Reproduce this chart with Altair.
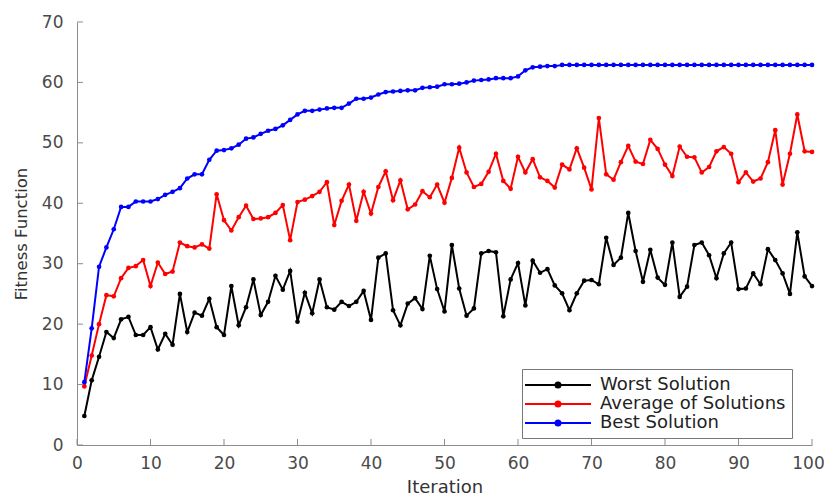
import altair as alt
import pandas as pd

iterations = list(range(1, 101))

worst = [4.8, 10.7, 14.6, 18.7, 17.7, 20.8, 21.2, 18.2, 18.2, 19.5,
         15.8, 18.4, 16.6, 25.0, 18.7, 21.9, 21.4, 24.2, 19.5, 18.2,
         26.3, 19.8, 22.8, 27.4, 21.5, 23.7, 28.0, 25.7, 28.8, 20.4,
         25.2, 21.8, 27.4, 22.8, 22.4, 23.7, 23.0, 23.7, 25.5, 20.7,
         31.0, 31.7, 22.3, 19.8, 23.4, 24.3, 22.5, 31.3, 25.8, 22.1,
         33.1, 25.9, 21.4, 22.6, 31.7, 32.1, 31.9, 21.3, 27.4, 30.1,
         23.1, 30.5, 28.5, 29.1, 26.4, 25.1, 22.3, 25.1, 27.2, 27.3,
         26.6, 34.3, 29.8, 31.0, 38.4, 32.1, 27.0, 32.3, 27.7, 26.5,
         33.5, 24.5, 26.2, 33.1, 33.5, 31.4, 27.6, 31.7, 33.5, 25.8,
         25.9, 28.4, 26.6, 32.4, 30.6, 28.4, 25.0, 35.2, 27.9, 26.3]

average = [9.7, 14.8, 20.0, 24.8, 24.6, 27.6, 29.3, 29.6, 30.6, 26.3,
           30.2, 28.3, 28.7, 33.5, 32.9, 32.7, 33.2, 32.5, 41.5, 37.2,
           35.5, 37.7, 39.6, 37.4, 37.5, 37.7, 38.4, 39.7, 33.9, 40.2,
           40.6, 41.2, 41.9, 43.5, 36.4, 40.4, 43.1, 37.1, 41.9, 38.3,
           42.7, 45.3, 40.5, 43.8, 39.0, 39.8, 42.0, 41.0, 43.1, 40.1,
           44.2, 49.2, 45.1, 42.7, 43.2, 45.2, 48.2, 43.7, 42.4, 47.7,
           45.1, 47.3, 44.3, 43.7, 42.6, 46.4, 45.6, 49.1, 45.9, 42.3,
           54.1, 44.8, 43.9, 46.8, 49.5, 46.9, 46.5, 50.5, 49.0, 46.4,
           44.5, 49.4, 47.7, 47.6, 45.1, 46.0, 48.6, 49.3, 48.2, 43.5,
           45.1, 43.6, 44.1, 46.8, 52.1, 43.1, 48.2, 54.7, 48.6, 48.5]

best = [10.4, 19.3, 29.5, 32.7, 35.7, 39.4, 39.4, 40.3, 40.3, 40.3,
        40.7, 41.4, 41.9, 42.5, 44.1, 44.8, 44.8, 47.2, 48.7, 48.8,
        49.1, 49.7, 50.7, 50.9, 51.5, 52.0, 52.3, 52.9, 53.8, 54.7,
        55.3, 55.3, 55.5, 55.7, 55.8, 55.8, 56.5, 57.3, 57.3, 57.5,
        58.0, 58.4, 58.5, 58.6, 58.7, 58.7, 59.1, 59.2, 59.3, 59.7,
        59.7, 59.8, 60.0, 60.3, 60.4, 60.5, 60.7, 60.7, 60.7, 61.0,
        62.0, 62.5, 62.6, 62.7, 62.7, 62.9, 62.9, 62.9, 62.9, 62.9,
        62.9, 62.9, 62.9, 62.9, 62.9, 62.9, 62.9, 62.9, 62.9, 62.9,
        62.9, 62.9, 62.9, 62.9, 62.9, 62.9, 62.9, 62.9, 62.9, 62.9,
        62.9, 62.9, 62.9, 62.9, 62.9, 62.9, 62.9, 62.9, 62.9, 62.9]

series_names = ["Worst Solution", "Average of Solutions", "Best Solution"]
series_colors = ["#000000", "#ff0000", "#0000ff"]
x_ticks = [0, 10, 20, 30, 40, 50, 60, 70, 80, 90, 100]
y_ticks = [0, 10, 20, 30, 40, 50, 60, 70]

rows = []
for name, vals in zip(series_names, [worst, average, best]):
    for it, v in zip(iterations, vals):
        rows.append({"Iteration": it, "Fitness": v, "Series": name})
df = pd.DataFrame(rows)

W, H = 735, 423
PAD_L, PAD_T, PAD_R, PAD_B = 69, 14, 12, 52
axis_gray = "#8c8c8c"
font = "DejaVu Sans"

x_scale = alt.Scale(domain=[0, 100], nice=False, zero=False)
y_scale = alt.Scale(domain=[0, 70], nice=False)

# legend glyph: a line segment with a dot in the middle (unit space, scaled by size)
legend_symbol = ("M-3.667,0L3.667,0M-0.28,0A0.28,0.28 0 1,0 0.28,0"
                 "A0.28,0.28 0 1,0 -0.28,0")

lines = alt.Chart(df).mark_line(
    strokeWidth=2,
    point=alt.OverlayMarkDef(filled=True, size=22, opacity=1),
).encode(
    x=alt.X("Iteration:Q", scale=x_scale, title="Iteration",
            axis=alt.Axis(values=x_ticks, labelPadding=10, titleFontSize=18,
                          titleY=42, titleBaseline="middle",
                          labelFontSize=17, labelFlush=False,
                          labelOffset=alt.condition("datum.value === 100",
                                                    alt.value(-4),
                                                    alt.value(0)))),
    y=alt.Y("Fitness:Q", scale=y_scale, title="Fitness Function",
            axis=alt.Axis(values=y_ticks, labelPadding=14, titleFontSize=16.5,
                          titleX=-56, titleY=H / 2, titleBaseline="middle",
                          labelFontSize=17, labelFlush=False)),
    color=alt.Color("Series:N",
                    scale=alt.Scale(domain=series_names, range=series_colors),
                    sort=series_names,
                    legend=alt.Legend(title=None, orient="none",
                                      legendX=445, legendY=347,
                                      symbolType=legend_symbol,
                                      symbolSize=324,
                                      symbolStrokeWidth=2,
                                      symbolOffset=20,
                                      labelOffset=32)),
    order=alt.Order("Iteration:Q"),
)

xt = pd.DataFrame({"Iteration": x_ticks})
yt = pd.DataFrame({"Fitness": y_ticks})

x_tick_marks = alt.Chart(xt).mark_rule(color=axis_gray, strokeWidth=1).encode(
    x=alt.X("Iteration:Q", scale=x_scale),
    y=alt.value(H),
    y2=alt.value(H - 6),
)
y_tick_marks = alt.Chart(yt).mark_rule(color=axis_gray, strokeWidth=1).encode(
    y=alt.Y("Fitness:Q", scale=y_scale),
    x=alt.value(0),
    x2=alt.value(6),
)

chart = alt.layer(lines, x_tick_marks, y_tick_marks).properties(
    width=W, height=H,
    autosize=alt.AutoSizeParams(type="none"),
    padding={"left": PAD_L, "top": PAD_T, "right": PAD_R, "bottom": PAD_B},
).configure_view(stroke=None).configure_axis(
    domainColor=axis_gray, domainWidth=1, ticks=False, tickSize=0, grid=False,
    labelFont=font, labelColor="#4a4a4a", titleFont=font,
    titleColor="#333333", titleFontWeight="normal",
).configure_legend(
    labelFont=font, labelFontSize=18, labelColor="#222222", labelLimit=400,
    strokeColor="#777777", fillColor="white", padding=6,
    rowPadding=0,
)

chart.save("out.html", embed_options={"renderer": "svg", "actions": False})
